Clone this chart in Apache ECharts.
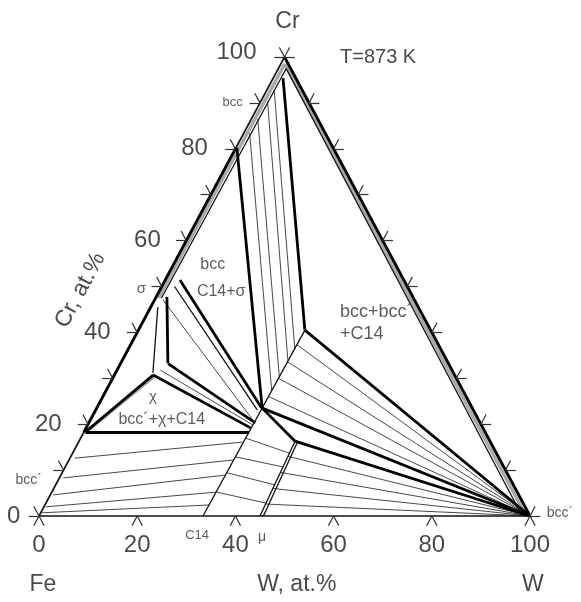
<!DOCTYPE html>
<html>
<head>
<meta charset="utf-8">
<script src="https://cdn.jsdelivr.net/npm/echarts@6/dist/echarts.min.js"></script>
<style>
  html, body { margin: 0; background: #fff; }
  #chart { width: 581px; height: 602px; }
</style>
</head>
<body>
<div id="chart"></div>
<script>
// every point is a composition [W at.%, Cr at.%], Fe is the balance
const sideTicks = [0, 10, 20, 30, 40, 50, 60, 70, 80, 90, 100];
const baseTicks = [0, 20, 40, 60, 80, 100];
const sideLabels = ['0', '20', '40', '60', '80', '100'];
const sideLabelValues = [0, 20, 40, 60, 80, 100];
const sideLabelGap = [3.8, 5.4, 5.4, 5.2, 5.6, 6.2];

const outline = [
  [[0, 0], [100, 0]],
  [[0, 0], [0, 100]]
];

// phase boundaries drawn bold
const heavyLines = [
  [[0, 18.3], [0, 80.2]],
  [[0, 100], [100, 0]],
  [[0.3, 18.3], [33.6, 18.3]],
  [[0.3, 18.3], [7.9, 30.7]],
  [[7.9, 30.7], [33.5, 19.2]],
  [[9.7, 33.2], [33.9, 20.3]],
  [[2.2, 47.7], [9.6, 33.3]],
  [[3.0, 51.4], [33.5, 23.6]],
  [[0.2, 80.2], [33.7, 23.5]],
  [[2.0, 95.4], [33.9, 40.5]],
  [[33.9, 40.5], [100, 0]],
  [[33.7, 23.5], [100, 0]],
  [[33.7, 23.5], [44.0, 16.3]],
  [[44.0, 16.3], [100, 0]]
];

// single-phase lines (C14, mu, sigma/chi strips, bcc solvus)
const mediumLines = [
  [[33.4, 0], [33.9, 40.5]],
  [[45.0, 0], [44.0, 16.3]],
  [[45.7, 0], [44.6, 16.1]],
  [[1.45, 45.5], [7.6, 31.2]],
  [[1.6, 97.5], [98.4, 0]],
  [[1.5, 80.5], [1.6, 97.5]],
  [[1.2, 47.5], [1.5, 80.5]],
  [[2.6, 50.0], [32.9, 23.1]]
];

// tie lines
const tieLines = [
  // bcc + C14
  [[1.2, 83.4], [33.8, 27.2]],
  [[1.3, 86.5], [33.8, 30.3]],
  [[1.4, 90.3], [33.8, 33.8]],
  [[1.5, 92.8], [33.9, 36.4]],
  // C14 + bcc'
  [[33.8, 26.0], [100, 0]],
  [[33.8, 30.0], [100, 0]],
  [[33.8, 33.6], [100, 0]],
  [[33.9, 37.3], [100, 0]],
  // mu + bcc'
  [[44.2, 13.0], [100, 0]],
  [[44.4, 9.5], [100, 0]],
  [[44.6, 6.0], [100, 0]],
  [[44.9, 2.6], [100, 0]],
  // C14 + mu
  [[33.5, 17.0], [44.1, 13.7]],
  [[33.5, 12.9], [44.3, 10.7]],
  [[33.6, 9.4], [44.6, 6.8]],
  [[33.6, 5.2], [44.9, 2.8]],
  // bcc' + C14 (Fe side)
  [[1.0, 12.6], [33.4, 16.1]],
  [[0.8, 8.3], [33.4, 12.2]],
  [[0.6, 4.6], [33.4, 8.9]],
  [[0.4, 2.0], [33.5, 5.2]],
  [[0.2, 0.7], [33.5, 2.4]],
  // chi + C14, sigma + C14
  [[8.8, 31.8], [33.7, 19.8]],
  [[1.7, 47.1], [33.1, 20.9]]
];

// grey two-phase bands along the edges
const greyBands = [
  [[0.8, 98.5], [99.2, 0]],
  [[0.7, 80.5], [0.8, 98.5]],
  [[0.6, 47.5], [0.7, 80.5]],
  [[0.6, 18.6], [8.3, 30.6]]
];

// text positions are given in plot units [W + Cr/2, Cr]
const axisTexts = [
  { at: [50.6, 107.6], text: 'Cr', size: 23, pos: 'inside' },
  { at: [61.3, 99.8], text: 'T=873 K', size: 20, pos: 'right' },
  { at: [0.8, -15], text: 'Fe', size: 23, pos: 'inside' },
  { at: [52.5, -15], text: 'W, at.%', size: 23, pos: 'inside' },
  { at: [100.6, -15], text: 'W', size: 23, pos: 'inside' }
];
const phaseTexts = [
  { at: [41.5, 90.2], text: 'bcc', size: 13, pos: 'left' },
  { at: [21.8, 49.4], text: 'σ', size: 15, pos: 'left' },
  { at: [0.6, 7.8], text: 'bcc´', size: 14, pos: 'left' },
  { at: [35.4, 54.7], text: 'bcc', size: 16, pos: 'inside' },
  { at: [37.1, 48.8], text: 'C14+σ', size: 16, pos: 'inside' },
  { at: [23.2, 26.0], text: 'χ', size: 15, pos: 'inside' },
  { at: [25.0, 20.9], text: 'bcc´+χ+C14', size: 16, pos: 'inside' },
  { at: [61.3, 44.4], text: 'bcc+bcc´', size: 18, pos: 'right' },
  { at: [61.3, 39.7], text: '+C14', size: 18, pos: 'right' },
  { at: [32.2, -4.2], text: 'C14', size: 13, pos: 'inside' },
  { at: [45.4, -4.6], text: 'μ', size: 14, pos: 'inside' },
  { at: [103.4, 0.6], text: 'bcc´', size: 14, pos: 'right' }
];

const tickLen = 2.1;
const fontFamily = 'Liberation Sans, Arial, sans-serif';

const toXY = (p) => [p[0] + p[1] / 2, p[1]];
const segs = (list) => list.map((s) => ({ coords: s.map(toXY) }));

const tickSegs = [];
sideTicks.forEach((c) => {
  tickSegs.push([[0, c], [-tickLen, c]], [[0, c], [-tickLen, c + tickLen]]);
  tickSegs.push([[100 - c, c], [100 - c + tickLen, c]], [[100 - c, c], [100 - c, c + tickLen]]);
});
baseTicks.forEach((w) => {
  tickSegs.push([[w, 0], [w, -tickLen]], [[w, 0], [w + tickLen, -tickLen]]);
});

const textItem = (t, color) => ({
  value: t.at,
  label: {
    show: true,
    formatter: t.text,
    position: t.pos,
    distance: 0,
    fontSize: t.size,
    color: color,
    fontFamily: fontFamily,
    rotate: t.rotate || 0
  }
});

const labelItems = [];
sideLabelValues.forEach((c, i) => {
  labelItems.push(textItem({ at: toXY([-sideLabelGap[i], c + (c === 100 ? 1 : 0)]), text: sideLabels[i], size: 24, pos: 'left' }, '#1a1a1a'));
  labelItems.push(textItem({ at: [c, -6.3], text: sideLabels[i], size: 24, pos: 'inside' }, '#1a1a1a'));
});
axisTexts.forEach((t) => labelItems.push(textItem(t, '#1a1a1a')));
labelItems.push(textItem({ at: [8.4, 49.2], text: 'Cr, at.%', size: 23, pos: 'inside', rotate: 61.7 }, '#1a1a1a'));
phaseTexts.forEach((t) => labelItems.push(textItem(t, '#333')));

const lineSeries = (data, width, color) => ({
  type: 'lines',
  coordinateSystem: 'cartesian2d',
  clip: false,
  silent: true,
  animation: false,
  lineStyle: { color: color, width: width, opacity: 1, curveness: 0 },
  data: segs(data)
});

const chart = echarts.init(document.getElementById('chart'));
chart.setOption({
  animation: false,
  backgroundColor: '#fff',
  grid: { left: 39, right: 51, top: 57, bottom: 86 },
  xAxis: { type: 'value', min: 0, max: 100, show: false },
  yAxis: { type: 'value', min: 0, max: 100, show: false },
  series: [
    lineSeries(greyBands, 3.5, '#a8a8a8'),
    lineSeries(tieLines, 0.9, '#333'),
    lineSeries(outline, 1.6, '#111'),
    lineSeries(mediumLines, 1.3, '#111'),
    lineSeries(heavyLines, 2.8, '#000'),
    lineSeries(tickSegs, 1.2, '#333'),
    {
      type: 'scatter',
      clip: false,
      silent: true,
      symbolSize: 0,
      data: labelItems
    }
  ]
});
</script>
</body>
</html>
